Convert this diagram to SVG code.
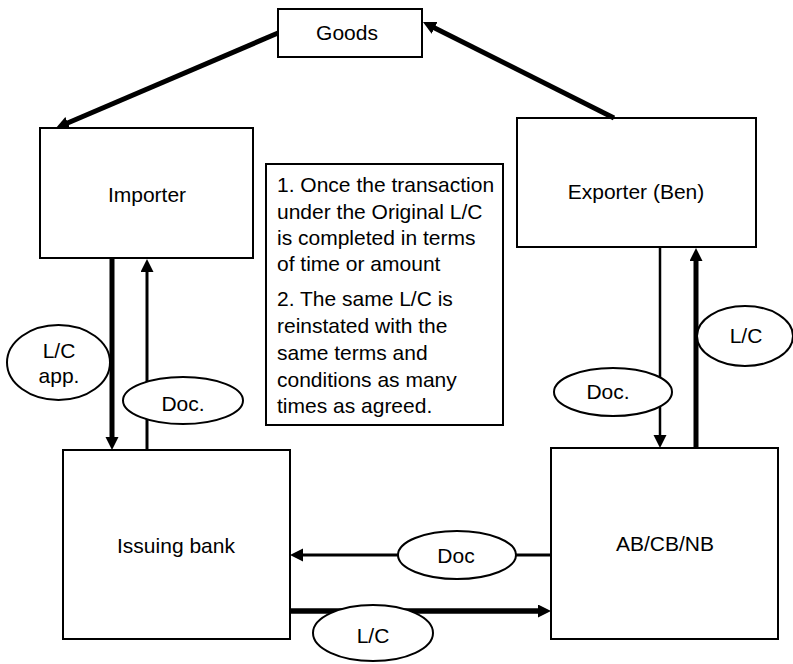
<svg xmlns="http://www.w3.org/2000/svg" width="793" height="664" viewBox="0 0 793 664">
  <style>
    text { font-family: "Liberation Sans", Arial, Helvetica, sans-serif; font-size: 21px; fill: #000; }
    .box { fill: #fff; stroke: #000; stroke-width: 2; }
    .tag { fill: #fff; stroke: #000; stroke-width: 2; }
    .c { text-anchor: middle; }
    .thick { stroke: #000; stroke-width: 5; fill: none; }
    .thin { stroke: #000; stroke-width: 3; fill: none; }
  </style>
  <defs>
    <marker id="head" markerUnits="userSpaceOnUse" markerWidth="14" markerHeight="14" refX="1" refY="6.5" orient="auto">
      <path d="M0,0 L13,6.5 L0,13 z" fill="#000"/>
    </marker>
  </defs>

  <!-- boxes -->
  <g id="goods">
    <rect class="box" x="278" y="9" width="144" height="48"/>
    <text class="c" x="347" y="40">Goods</text>
  </g>
  <g id="importer">
    <rect class="box" x="40" y="128" width="213" height="130"/>
    <text class="c" x="147" y="202">Importer</text>
  </g>
  <g id="exporter">
    <rect class="box" x="517" y="118" width="239" height="129"/>
    <text class="c" x="636" y="199">Exporter (Ben)</text>
  </g>
  <g id="note">
    <rect class="box" x="266" y="164" width="237" height="261"/>
    <text x="277" y="192">1. Once the transaction</text>
    <text x="277" y="219">under the Original L/C</text>
    <text x="277" y="245">is completed in terms</text>
    <text x="277" y="271">of time or amount</text>
    <text x="277" y="306">2. The same L/C is</text>
    <text x="277" y="333">reinstated with the</text>
    <text x="277" y="360">same terms and</text>
    <text x="277" y="387">conditions as many</text>
    <text x="277" y="413">times as agreed.</text>
  </g>
  <g id="issuing-bank">
    <rect class="box" x="63" y="450" width="227" height="189"/>
    <text class="c" x="176" y="553">Issuing bank</text>
  </g>
  <g id="advising-bank">
    <rect class="box" x="551" y="448" width="227" height="191"/>
    <text class="c" x="665" y="551">AB/CB/NB</text>
  </g>

  <!-- connectors -->
  <g id="connectors">
    <line class="thick" x1="278" y1="33" x2="67" y2="123.3" marker-end="url(#head)"/>
    <line class="thick" x1="614" y1="118" x2="433.7" y2="27.4" marker-end="url(#head)"/>
    <line class="thick" x1="112" y1="258" x2="112" y2="438" marker-end="url(#head)"/>
    <line class="thin" x1="147" y1="450" x2="147" y2="271" marker-end="url(#head)"/>
    <line class="thin" x1="660" y1="247" x2="660" y2="436" style="stroke-width:2.5" marker-end="url(#head)"/>
    <line class="thick" x1="696" y1="448" x2="696" y2="260" marker-end="url(#head)"/>
    <line class="thin" x1="551" y1="555" x2="302" y2="555" marker-end="url(#head)"/>
    <line class="thick" x1="290" y1="611" x2="539" y2="611" style="stroke-width:5.5" marker-end="url(#head)"/>
  </g>

  <!-- connector labels -->
  <g id="label-lc-app">
    <ellipse class="tag" cx="58.5" cy="362.5" rx="51.5" ry="37.5"/>
    <text class="c" x="59" y="358">L/C</text>
    <text class="c" x="59" y="383">app.</text>
  </g>
  <g id="label-doc-left">
    <ellipse class="tag" cx="183" cy="400.5" rx="60" ry="23.5"/>
    <text class="c" x="183" y="411">Doc.</text>
  </g>
  <g id="label-lc-right">
    <ellipse class="tag" cx="745" cy="336" rx="48" ry="30"/>
    <text class="c" x="746" y="343">L/C</text>
  </g>
  <g id="label-doc-right">
    <ellipse class="tag" cx="613" cy="392" rx="59" ry="24"/>
    <text class="c" x="608" y="399">Doc.</text>
  </g>
  <g id="label-doc-bottom">
    <ellipse class="tag" cx="457" cy="555" rx="59" ry="24"/>
    <text class="c" x="456" y="563">Doc</text>
  </g>
  <g id="label-lc-bottom">
    <ellipse class="tag" cx="373" cy="633" rx="60" ry="28"/>
    <text class="c" x="373" y="643">L/C</text>
  </g>
</svg>
